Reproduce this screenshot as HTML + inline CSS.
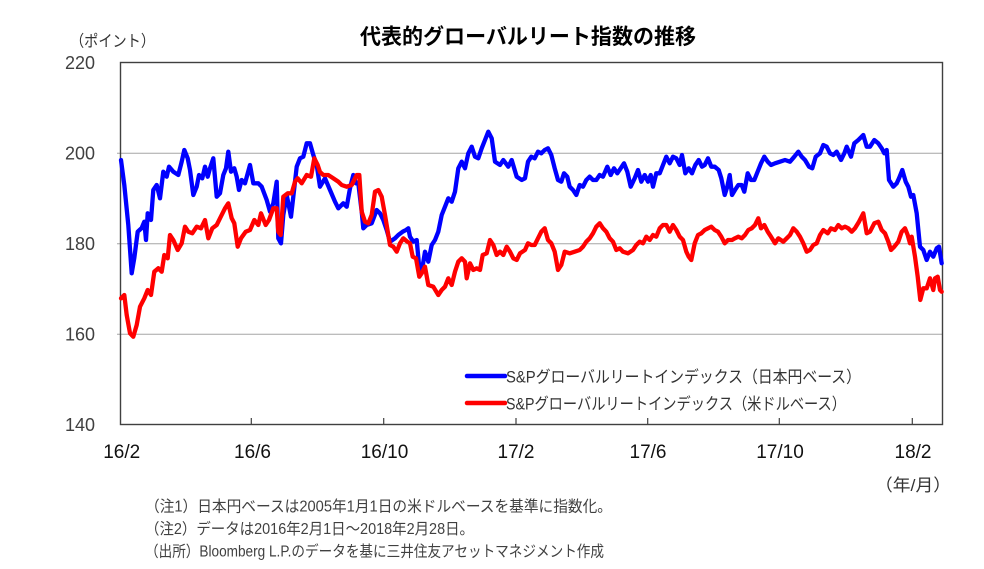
<!DOCTYPE html>
<html><head><meta charset="utf-8"><style>
html,body{margin:0;padding:0;background:#fff;}
svg{display:block;}
text{font-family:"Liberation Sans","Noto Sans CJK JP",sans-serif;}
</style></head><body>
<svg width="984" height="569" viewBox="0 0 984 569" xmlns="http://www.w3.org/2000/svg">
<rect width="984" height="569" fill="#fff"/>
<text x="360" y="44" font-size="21.5" font-weight="bold" fill="#000" textLength="336" lengthAdjust="spacingAndGlyphs">代表的グローバルリート指数の推移</text>
<text x="70" y="46.5" font-size="16" fill="#333" textLength="85" lengthAdjust="spacingAndGlyphs">（ポイント）</text>
<!-- grid -->
<g stroke="#a6a6a6" stroke-width="1">
<line x1="117" y1="153.3" x2="942" y2="153.3"/>
<line x1="117" y1="243.8" x2="942" y2="243.8"/>
<line x1="117" y1="334.3" x2="942" y2="334.3"/>
</g>
<rect x="120.5" y="62.5" width="822" height="362" fill="none" stroke="#404040" stroke-width="1.4"/>
<g stroke="#404040" stroke-width="1.2">
<line x1="251.3" y1="424" x2="251.3" y2="418"/>
<line x1="383.7" y1="424" x2="383.7" y2="418"/>
<line x1="516" y1="424" x2="516" y2="418"/>
<line x1="647.7" y1="424" x2="647.7" y2="418"/>
<line x1="779.3" y1="424" x2="779.3" y2="418"/>
<line x1="912.3" y1="424" x2="912.3" y2="418"/>
</g>
<!-- y labels -->
<g font-size="18" fill="#404040" text-anchor="end">
<text x="95" y="69">220</text>
<text x="95" y="159.5">200</text>
<text x="95" y="250">180</text>
<text x="95" y="340.5">160</text>
<text x="95" y="431">140</text>
</g>
<!-- x labels -->
<g font-size="19" fill="#111" text-anchor="middle">
<text x="121.7" y="458">16/2</text>
<text x="252.5" y="458">16/6</text>
<text x="384.5" y="458">16/10</text>
<text x="516" y="458">17/2</text>
<text x="648" y="458">17/6</text>
<text x="780" y="458">17/10</text>
<text x="913" y="458">18/2</text>
</g>
<text x="875" y="491" font-size="17" fill="#333" textLength="76" lengthAdjust="spacingAndGlyphs">（年/月）</text>
<!-- blue -->
<polyline fill="none" stroke="#0000ff" stroke-width="4.3" stroke-linejoin="round" stroke-linecap="round" points="
121,160 124.3,185 128.3,225 131.7,273.3 134.3,258 137.7,231.7 141.7,228 144.3,221.7 146,240 147.7,213.3 151,220 153.3,190 156.7,185 160,198.3 163.3,171.7 166.7,176.7 169,166.7 173.3,171.7 178.3,175 181.7,161.7 184.3,150 187.7,158.3 190,170 193.3,195 196.7,186.7 199,175 202.3,178.3 205,166.7 207.7,176.7 210,168.3 213.3,158.3 216.7,196.7 220,193.3 223.3,175 226,168.3 228.3,151.7 231,171.7 234.3,168.3 236.7,176.7 239,190 241.7,180 245,183.3 250,165 253.3,183.3 258.3,183.3 261.7,186.7 266.7,200 270,211.7 273.3,203.3 276.7,181.7 278.3,238.3 281,243.3 283.3,215 286.7,195 291,216.7 293.3,196.7 296.7,166.7 300,158.3 303.3,156.7 306.7,143.3 310,143.3 313.3,155 316.7,165 320,186.7 325,178.3 330,190 335,201.7 338.3,208.3 343.3,203.3 346.7,206.7 350,188.3 353.3,175 356,183.3 358.3,183.3 361.7,211.7 363.3,228.3 366.7,225 371.7,223.3 376.7,210 380,213.3 383.3,220 386.7,230 390,241.7 395,238.3 398.3,235 402.7,231.7 406,230 408.3,228.3 410,236.7 413.3,241.7 416.7,240 419.3,268.3 421.7,271.7 425,251.7 428.3,261.7 431.7,245 435,240 438.3,231.7 441.7,215 445,206.7 448.3,198.3 451.7,201.7 455,191.7 458.3,168.3 461.7,161.7 465,168.3 468.3,153.3 471.7,146.7 475,156.7 478.3,158.3 481.7,148.3 485,140 488.3,131.7 491.7,138.3 495,161.7 500,165 503.3,160 508.3,166.7 511.7,160 516.7,176.7 521.7,180 525,178.3 528,161.7 531.3,156.7 534.7,158.3 538,151.7 541.3,153.3 544.7,150 548,148.3 551.3,155 554.7,168.3 558,180 561.3,181.7 564,173.3 567.3,176.7 569.7,186.7 573,190 576.3,195 579.7,185 583,186.7 586.3,180 589.7,176.7 593,180 596.3,180 599.7,175 603,176.7 607.3,166.7 610.7,175 614,168.3 617.3,173.3 620.7,168.3 624,163.3 627.3,171.7 630.7,186.7 634.7,178.3 638,170 641.3,181.7 644.7,175 648,181.7 650.7,175 653,186.7 656.3,173.3 659.7,173.3 663,165 666.3,156.7 669.7,163.3 673,156.7 676.3,158.3 679.7,165 682,155 685.3,173.3 688.7,168.3 692,173.3 695.3,165 698.7,160 702,166.7 704.7,165 708,158.3 711.3,166.7 714.7,166.7 718.7,170 721.3,178.3 724.7,195 727.3,186.7 729.7,175 732,195 735,190 738.3,185 741.7,185 744.3,191.7 747.7,173.3 751,180 754.3,180 758.3,170 761,163.3 764.3,156.7 767.7,161.7 771,165 775,163.3 780,161.7 785,160 790,161.7 794.3,156.7 798.3,151.7 801.7,156.7 805,160 809,166.7 812.3,168.3 815.7,156.7 820,153.3 823.3,145 826.7,146.7 830,153.3 833.3,155 836.7,151.7 841,160 844.3,153.3 846.7,146.7 851,156.7 854.3,143.3 858.3,140 863.3,135 866.7,146.7 870,146.7 874.3,140 878.3,143.3 881.7,148.3 884.3,153.3 886.7,150 889,180 893.3,186.7 896.7,183.3 899,178.3 902.3,170 905.7,181.7 908.3,186.7 911,196.7 913.3,195 916.7,213.3 920,246.7 923.3,250 926.7,260 930,251.7 933.3,256.7 936.7,248.3 939,246.7 941.7,263.3"/>
<!-- red -->
<polyline fill="none" stroke="#ff0000" stroke-width="4.3" stroke-linejoin="round" stroke-linecap="round" points="
121,298.3 124.3,295 126.7,315 130,333.3 133.3,336.7 136.7,325 140,306.7 144.3,298.3 147.7,290 151,295 154.3,271.7 158.3,268.3 161.7,271.7 164.3,255 167.7,258.3 170,235 173.3,240 177.7,250 181.7,243.3 185,226.7 188.3,231.7 192.3,233.3 196.7,226.7 201,228.3 205,220 208.3,238.3 212.3,228.3 216.7,225 220,218.3 225,208.3 228.3,203.3 231.7,218.3 234.3,223.3 237.7,246.7 241,238.3 245.7,231.7 250,230 254.3,220 258.3,225 261,213.3 265.7,225 269,220 273.3,208.3 276.7,208.3 278.3,231.7 280.7,235 283.3,196.7 287.7,193.3 291.7,193.3 295,181.7 297.7,178.3 301.7,183.3 306.7,175 311,176.7 314.3,158.3 317.7,165 320,172 323.3,175 328.3,175 333.3,178.3 338.3,181.7 341.7,185 346.7,186.7 351.7,185 356.7,175 359.3,175 361.7,211.7 365,221.7 368.3,223.3 371.7,215 375,191.7 378.3,190 381.7,196.7 385,215 388.3,235 390,245 393.3,246.7 396.7,251.7 400,243.3 403.3,238.3 407.3,241.7 410,243.3 412.7,256.7 416,258.3 419.3,276.7 421.7,273.3 425,266.7 428.3,285 433.3,286.7 438.3,295 441.7,290 445,286.7 448.3,278.3 451.7,285 455,271.7 458.3,261.7 461.7,258.3 465,261.7 466.7,278.3 470,263.3 473.3,270 476.7,268.3 480,270 482.7,255 486.7,253.3 490,240 493.3,245 496.7,255 500,251.7 503.3,255 506.7,246.7 510,251.7 513.3,258.3 516.7,260 520,253.3 525,250 528,243.3 531.3,245 534.7,245 538,238.3 541.3,231.7 544.7,228.3 548,240 551.3,243.3 554.7,251.7 558,270 561.3,265 564.7,251.7 569.7,253.3 574.7,251.7 579.7,250 583,246.7 586.3,241.7 589.7,238.3 593,233.3 596.3,226.7 599.7,223.3 603,228.3 606.3,231.7 609.7,238.3 613,241.7 616.3,250 619.7,248.3 623,251.7 628,253.3 633,250 636.3,245 639.7,241.7 643,243.3 646.3,236.7 649.7,240 653,235 656.3,236.7 659.7,228.3 663,225 666.3,225 669.7,231.7 673,225 676.3,230 679.7,236.7 683,240 686.3,251.7 688.7,256.7 691.3,260 694.7,243.3 698,235 701.3,233.3 704.7,230 708,228.3 711.3,226.7 714.7,230 718,231.7 721.3,236.7 724.7,243.3 728,240 732,240 735,238.3 738.3,236.7 741.7,238.3 745,235 748.3,230 751.7,228.3 755,225 758.3,218.3 761,228.3 764.3,225 767.7,231.7 771,236.7 775,243.3 778.3,238.3 783.3,241.7 786.7,238.3 790,235 793.3,228.3 796.7,231.7 800,236.7 803.3,243.3 806.7,251.7 810,250 813.3,245 816.7,243.3 820,235 823.3,230 827.7,233.3 831,228.3 835,230 838.3,225 841.7,228.3 845,226.7 848.3,228.3 851.7,231.7 855,228.3 859,221.7 863.3,213.3 866.7,233.3 870,231.7 874.3,223.3 878.3,221.7 881.7,230 885,233.3 888.3,241.7 891,250 894.3,246.7 898.3,241.7 901.7,231.7 905,228.3 907.7,235 910,243.3 911.7,236.7 915,256.7 917.7,276.7 920.3,300 923.3,288.3 926.7,288.3 930,278.3 933.3,290 935,278.3 937.7,276.7 940,290 941.7,291.7"/>
<!-- legend -->
<line x1="467" y1="376" x2="505" y2="376" stroke="#0000ff" stroke-width="4.5" stroke-linecap="round"/>
<line x1="467" y1="403" x2="505" y2="403" stroke="#ff0000" stroke-width="4.5" stroke-linecap="round"/>
<text x="506" y="382.5" font-size="16.5" fill="#333" textLength="355" lengthAdjust="spacingAndGlyphs">S&amp;Pグローバルリートインデックス（日本円ベース）</text>
<text x="506" y="409.5" font-size="16.5" fill="#333" textLength="340" lengthAdjust="spacingAndGlyphs">S&amp;Pグローバルリートインデックス（米ドルベース）</text>
<!-- notes -->
<g font-size="15.5" fill="#404040">
<text x="145" y="511.5" textLength="467" lengthAdjust="spacingAndGlyphs">（注1）日本円ベースは2005年1月1日の米ドルベースを基準に指数化。</text>
<text x="145" y="534" textLength="329" lengthAdjust="spacingAndGlyphs">（注2）データは2016年2月1日～2018年2月28日。</text>
<text x="145" y="556.5" textLength="459" lengthAdjust="spacingAndGlyphs">（出所）Bloomberg L.P.のデータを基に三井住友アセットマネジメント作成</text>
</g>
</svg>
</body></html>
